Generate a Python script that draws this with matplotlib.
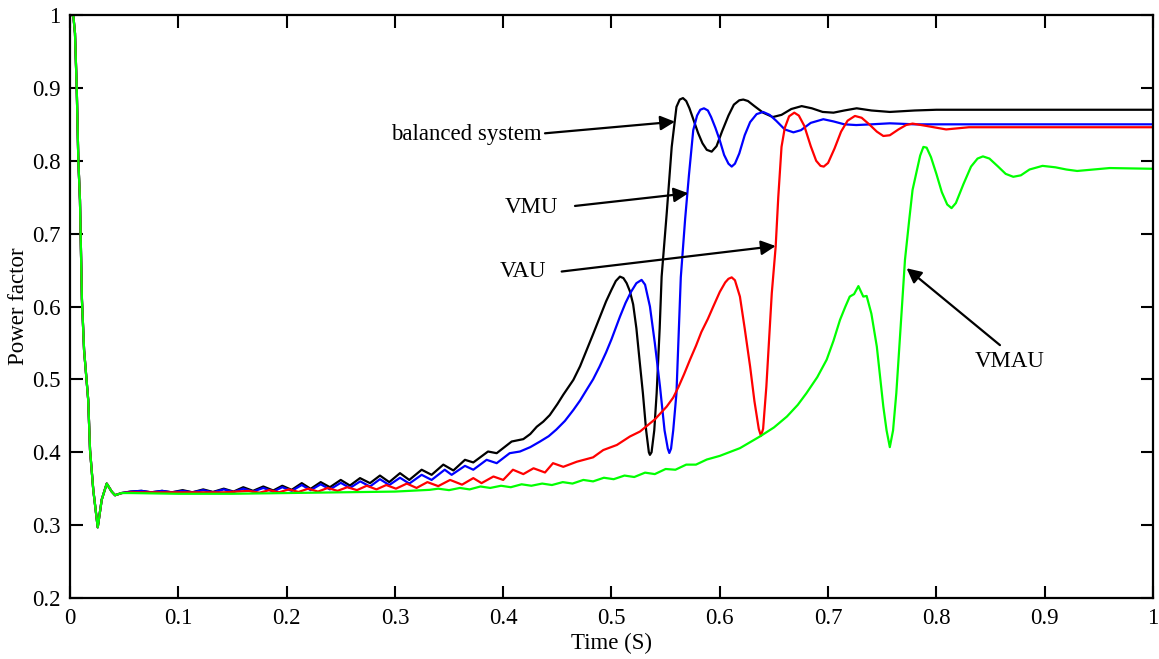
"""Power factor response for balanced and unbalanced supply cases."""

import matplotlib.pyplot as plt
from matplotlib.ticker import FuncFormatter

plt.rcParams['font.family'] = ['Liberation Serif', 'DejaVu Serif']

# start-up transient, common to all four cases
t_start = [0.0, 0.003, 0.0046, 0.0062, 0.0077, 0.0092, 0.011, 0.013, 0.0168,
           0.0185, 0.0215, 0.0256, 0.0293, 0.0339, 0.0385, 0.0416, 0.0477]
pf_start = [1.0, 1.0, 0.975, 0.90, 0.80, 0.746, 0.61, 0.54, 0.472,
            0.403, 0.348, 0.297, 0.335, 0.357, 0.346, 0.341, 0.344]

# balanced system (black)
t_bal = [0.056, 0.066, 0.075, 0.085, 0.094, 0.104, 0.113, 0.123, 0.132, 0.142,
         0.151, 0.160, 0.169, 0.1785, 0.1877, 0.196, 0.2047, 0.214, 0.2222,
         0.2315, 0.240, 0.250, 0.2585, 0.2678, 0.277, 0.2862, 0.2948, 0.3047,
         0.3133, 0.3247, 0.3339, 0.3447, 0.354, 0.3647, 0.3724, 0.386, 0.394,
         0.4078, 0.4186, 0.425, 0.431, 0.437, 0.443, 0.450, 0.4555, 0.4648,
         0.471, 0.477, 0.483, 0.4894, 0.495, 0.500, 0.504, 0.5078, 0.511,
         0.514, 0.517, 0.520, 0.523, 0.526, 0.529, 0.532, 0.5345, 0.5355,
         0.537, 0.5395, 0.5417, 0.5445, 0.5463, 0.551, 0.5556, 0.560, 0.563,
         0.566, 0.569, 0.572, 0.576, 0.580, 0.584, 0.588, 0.5925, 0.597,
         0.602, 0.608, 0.613, 0.618, 0.6217, 0.626, 0.632, 0.640, 0.649,
         0.657, 0.666, 0.6756, 0.685, 0.695, 0.705, 0.715, 0.7264, 0.740,
         0.757, 0.780, 0.800, 1.0]
pf_bal = [0.346, 0.347, 0.345, 0.347, 0.345, 0.348, 0.345, 0.349, 0.3455, 0.350,
          0.346, 0.352, 0.347, 0.353, 0.3475, 0.354, 0.3484, 0.3576, 0.3498,
          0.359, 0.352, 0.362, 0.3543, 0.3645, 0.3576, 0.368, 0.359, 0.3713,
          0.362, 0.376, 0.369, 0.383, 0.375, 0.3896, 0.386, 0.401, 0.3987,
          0.4147, 0.418, 0.425, 0.435, 0.442, 0.451, 0.466, 0.479, 0.4993,
          0.518, 0.540, 0.562, 0.586, 0.607, 0.623, 0.635, 0.641, 0.639,
          0.632, 0.621, 0.603, 0.570, 0.525, 0.481, 0.430, 0.400, 0.3964,
          0.400, 0.430, 0.481, 0.570, 0.641, 0.728, 0.819, 0.874, 0.884,
          0.886, 0.882, 0.872, 0.855, 0.838, 0.824, 0.815, 0.8125, 0.820,
          0.840, 0.862, 0.877, 0.883, 0.884, 0.882, 0.875, 0.866, 0.860,
          0.863, 0.871, 0.875, 0.872, 0.867, 0.866, 0.869, 0.872, 0.869,
          0.867, 0.869, 0.870, 0.870]

# VMU (blue)
t_vmu = [0.056, 0.066, 0.075, 0.085, 0.094, 0.104, 0.113, 0.123, 0.132, 0.142,
         0.151, 0.160, 0.169, 0.1785, 0.1877, 0.196, 0.2047, 0.214, 0.2222,
         0.2315, 0.240, 0.250, 0.2585, 0.268, 0.277, 0.2862, 0.2948, 0.3047,
         0.3133, 0.3247, 0.3339, 0.346, 0.3524, 0.3647, 0.3724, 0.3847, 0.394,
         0.406, 0.4155, 0.425, 0.434, 0.442, 0.449, 0.457, 0.4648, 0.471,
         0.477, 0.483, 0.489, 0.495, 0.500, 0.5078, 0.513, 0.518, 0.523,
         0.5278, 0.531, 0.5355, 0.540, 0.5448, 0.549, 0.552, 0.5534, 0.555,
         0.557, 0.560, 0.564, 0.568, 0.5715, 0.5755, 0.579, 0.582, 0.5854,
         0.589, 0.592, 0.596, 0.600, 0.604, 0.608, 0.611, 0.614, 0.618, 0.623,
         0.628, 0.634, 0.640, 0.646, 0.652, 0.660, 0.668, 0.675, 0.684,
         0.6956, 0.705, 0.715, 0.726, 0.740, 0.757, 0.780, 1.0]
pf_vmu = [0.346, 0.347, 0.345, 0.347, 0.345, 0.347, 0.345, 0.348, 0.345, 0.349,
          0.3455, 0.350, 0.346, 0.351, 0.346, 0.352, 0.347, 0.355, 0.348,
          0.356, 0.349, 0.358, 0.351, 0.360, 0.353, 0.363, 0.355, 0.365,
          0.357, 0.369, 0.362, 0.376, 0.369, 0.3813, 0.376, 0.3896, 0.385,
          0.3987, 0.401, 0.407, 0.4147, 0.422, 0.431, 0.443, 0.458, 0.471,
          0.4856, 0.500, 0.5176, 0.537, 0.555, 0.586, 0.605, 0.620, 0.632,
          0.6365, 0.630, 0.600, 0.550, 0.490, 0.430, 0.405, 0.399, 0.405,
          0.430, 0.481, 0.640, 0.720, 0.780, 0.842, 0.862, 0.870, 0.872,
          0.869, 0.860, 0.845, 0.828, 0.808, 0.796, 0.792, 0.796, 0.810, 0.835,
          0.853, 0.864, 0.867, 0.863, 0.855, 0.843, 0.839, 0.842, 0.852,
          0.857, 0.854, 0.850, 0.849, 0.850, 0.8514, 0.850, 0.850]

# VAU (red)
t_vau = [0.056, 0.104, 0.142, 0.165, 0.175, 0.184, 0.193, 0.202, 0.211, 0.220,
         0.229, 0.238, 0.247, 0.256, 0.265, 0.274, 0.283, 0.292, 0.301, 0.311,
         0.320, 0.330, 0.340, 0.351, 0.362, 0.3724, 0.380, 0.391, 0.400,
         0.409, 0.4186, 0.428, 0.4386, 0.446, 0.4555, 0.468, 0.483, 0.4924,
         0.505, 0.517, 0.5263, 0.540, 0.551, 0.557, 0.562, 0.567, 0.5725,
         0.578, 0.583, 0.589, 0.594, 0.600, 0.605, 0.608, 0.611, 0.614,
         0.6186, 0.623, 0.628, 0.632, 0.636, 0.638, 0.640, 0.643, 0.648,
         0.6516, 0.654, 0.657, 0.660, 0.664, 0.6688, 0.673, 0.678, 0.684,
         0.689, 0.693, 0.696, 0.700, 0.706, 0.712, 0.718, 0.7248, 0.731,
         0.738, 0.745, 0.751, 0.757, 0.765, 0.772, 0.778, 0.790, 0.809,
         0.830, 1.0]
pf_vau = [0.345, 0.345, 0.345, 0.347, 0.3445, 0.348, 0.345, 0.349, 0.3455, 0.350,
          0.346, 0.351, 0.347, 0.352, 0.348, 0.354, 0.349, 0.355, 0.350, 0.357,
          0.351, 0.359, 0.3535, 0.362, 0.3555, 0.3645, 0.3576, 0.3667, 0.362,
          0.376, 0.370, 0.378, 0.3722, 0.385, 0.380, 0.387, 0.393, 0.403,
          0.410, 0.4216, 0.4284, 0.445, 0.4627, 0.475, 0.490, 0.507, 0.527,
          0.546, 0.565, 0.583, 0.600, 0.620, 0.633, 0.638, 0.640, 0.636,
          0.6136, 0.570, 0.5176, 0.470, 0.432, 0.4225, 0.432, 0.490, 0.618,
          0.682, 0.750, 0.819, 0.845, 0.861, 0.866, 0.862, 0.848, 0.820,
          0.800, 0.793, 0.792, 0.797, 0.817, 0.840, 0.855, 0.8615, 0.859,
          0.850, 0.840, 0.834, 0.835, 0.843, 0.849, 0.851, 0.848, 0.843,
          0.846, 0.846]

# VMAU (green)
t_vmau = [0.056, 0.100, 0.150, 0.200, 0.250, 0.300, 0.332, 0.340, 0.350, 0.360,
          0.369, 0.379, 0.388, 0.398, 0.407, 0.417, 0.426, 0.436, 0.445, 0.455,
          0.464, 0.474, 0.483, 0.493, 0.502, 0.512, 0.521, 0.531, 0.540, 0.550,
          0.559, 0.569, 0.578, 0.588, 0.600, 0.6186, 0.637, 0.650, 0.662,
          0.672, 0.680, 0.690, 0.6987, 0.705, 0.711, 0.716, 0.720, 0.724,
          0.728, 0.7325, 0.7356, 0.740, 0.745, 0.751, 0.754, 0.757, 0.760,
          0.763, 0.768, 0.771, 0.775, 0.778, 0.785, 0.788, 0.791, 0.795,
          0.800, 0.805, 0.810, 0.814, 0.818, 0.825, 0.832, 0.838, 0.843,
          0.849, 0.857, 0.864, 0.871, 0.878, 0.886, 0.898, 0.910, 0.920,
          0.930, 0.945, 0.960, 1.0]
pf_vmau = [0.344, 0.343, 0.343, 0.344, 0.345, 0.346, 0.3484, 0.350, 0.348, 0.351,
           0.349, 0.353, 0.351, 0.354, 0.352, 0.356, 0.354, 0.357, 0.355, 0.359,
           0.357, 0.362, 0.360, 0.365, 0.363, 0.368, 0.366, 0.372, 0.370, 0.377,
           0.376, 0.383, 0.383, 0.390, 0.395, 0.4056, 0.4216, 0.434, 0.449,
           0.465, 0.481, 0.503, 0.527, 0.553, 0.5816, 0.600, 0.6136, 0.617,
           0.628, 0.6136, 0.6145, 0.590, 0.545, 0.4627, 0.430, 0.407, 0.430,
           0.481, 0.595, 0.664, 0.720, 0.760, 0.807, 0.819, 0.818, 0.805,
           0.782, 0.757, 0.740, 0.735, 0.742, 0.768, 0.792, 0.803, 0.806,
           0.803, 0.792, 0.782, 0.778, 0.780, 0.788, 0.793, 0.791, 0.788,
           0.786, 0.788, 0.790, 0.789]

x_ticks = [0, 0.1, 0.2, 0.3, 0.4, 0.5, 0.6, 0.7, 0.8, 0.9, 1.0]
y_ticks = [0.2, 0.3, 0.4, 0.5, 0.6, 0.7, 0.8, 0.9, 1.0]

fig = plt.figure(figsize=(11.59, 6.59), dpi=100)
ax = fig.add_axes([0.0604, 0.0926, 0.9344, 0.8846])

series = [(t_bal, pf_bal, '#000000'), (t_vmu, pf_vmu, '#0000ff'),
          (t_vau, pf_vau, '#ff0000'), (t_vmau, pf_vmau, '#00ff00')]
for t, pf, col in series:
    ax.plot(t_start + t, pf_start + pf, color=col, linewidth=1.6)

ax.set_xlim(0, 1)
ax.set_ylim(0.2, 1)
ax.set_xticks(x_ticks)
ax.set_yticks(y_ticks)
fmt = FuncFormatter(lambda v, pos: f'{v:g}')
ax.xaxis.set_major_formatter(fmt)
ax.yaxis.set_major_formatter(fmt)
ax.tick_params(direction='in', length=9, width=1.5, labelsize=16.5,
               top=True, right=True, pad=7)
for sp in ax.spines.values():
    sp.set_linewidth(1.6)

ax.set_xlabel('Time (S)', fontsize=16.5, labelpad=3)
ax.set_ylabel('Power factor', fontsize=16.5, labelpad=2)

# labels with arrows
arrow = dict(arrowstyle='-|>', color='k', lw=1.6, mutation_scale=22,
             shrinkA=0, shrinkB=0)
ax.text(0.2964, 0.8354, 'balanced system', fontsize=16.5, ha='left', va='center')
ax.annotate('', xy=(0.5586, 0.8536), xytext=(0.4386, 0.8377), arrowprops=arrow)
ax.text(0.4017, 0.7353, 'VMU', fontsize=16.5, ha='left', va='center')
ax.annotate('', xy=(0.571, 0.7554), xytext=(0.4663, 0.738), arrowprops=arrow)
ax.text(0.397, 0.6475, 'VAU', fontsize=16.5, ha='left', va='center')
ax.annotate('', xy=(0.6516, 0.683), xytext=(0.454, 0.648), arrowprops=arrow)
ax.text(0.8356, 0.524, 'VMAU', fontsize=16.5, ha='left', va='center')
ax.annotate('', xy=(0.7725, 0.6525), xytext=(0.8587, 0.547), arrowprops=arrow)

fig.savefig('out.png', dpi=100)
plt.close()
